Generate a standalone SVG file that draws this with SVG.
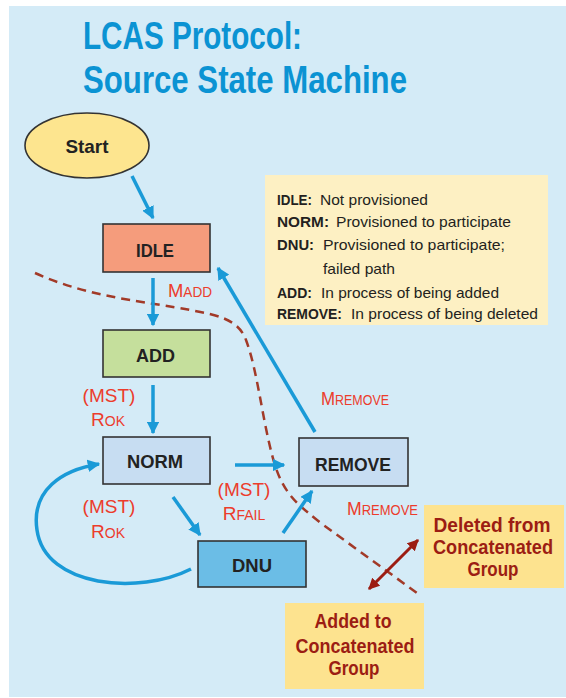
<svg xmlns="http://www.w3.org/2000/svg" width="566" height="698" viewBox="0 0 566 698">
<defs>
<style>
.t{font-family:"Liberation Sans",Arial,sans-serif;font-weight:bold;}
.title{fill:#0b93d3;font-size:38px;}
.node{stroke:#333;stroke-width:1.6;}
.nt{font-size:19px;fill:#222;text-anchor:middle;}
.lbl{font-family:"Liberation Sans",Arial,sans-serif;fill:#ec3c2c;font-size:19px;}
.sc{font-size:14px;}
.leg{font-family:"Liberation Sans",Arial,sans-serif;font-size:15px;fill:#231f20;}
.lb{font-weight:bold;}
.dr{fill:#9c1d13;font-size:20px;text-anchor:middle;}
.conn{fill:none;stroke:#1a9ad7;stroke-width:3.5;}
</style>
<marker id="ah" viewBox="0 0 10 10" refX="9" refY="5" markerWidth="3.6" markerHeight="3.6" orient="auto" markerUnits="strokeWidth">
<path d="M0,0 L10,5 L0,10 Z" fill="#1a9ad7"/>
</marker>
<marker id="rh" viewBox="0 0 10 10" refX="9" refY="5" markerWidth="3.8" markerHeight="3.8" orient="auto-start-reverse" markerUnits="strokeWidth">
<path d="M0,0 L10,5 L0,10 Z" fill="#9c1d13"/>
</marker>
</defs>
<rect x="0" y="0" width="566" height="698" fill="#ffffff"/>
<rect x="9" y="6" width="557" height="691" fill="#d4ebf7"/>
<g id="title">
<text class="t title" x="83" y="49" textLength="219" lengthAdjust="spacingAndGlyphs">LCAS Protocol:</text>
<text class="t title" x="83" y="93" textLength="324" lengthAdjust="spacingAndGlyphs">Source State Machine</text>
</g>
<g id="dashed">
<path d="M35,273 C90,298 150,302 190,310 C215,315 238,318 246,340 C258,372 262,420 274,462 C284,496 300,506 322,524 L417,593" fill="none" stroke="#a23a28" stroke-width="2.5" stroke-dasharray="9,6"/>
</g>
<g id="legend">
<rect x="265" y="175" width="283" height="150" fill="#fdf0c3"/>
<text class="leg lb" x="277" y="205" textLength="35" lengthAdjust="spacingAndGlyphs">IDLE:</text>
<text class="leg" x="320" y="205" textLength="108" lengthAdjust="spacingAndGlyphs">Not provisioned</text>
<text class="leg lb" x="277" y="227" textLength="52" lengthAdjust="spacingAndGlyphs">NORM:</text>
<text class="leg" x="336" y="227" textLength="175" lengthAdjust="spacingAndGlyphs">Provisioned to participate</text>
<text class="leg lb" x="277" y="250" textLength="37" lengthAdjust="spacingAndGlyphs">DNU:</text>
<text class="leg" x="323" y="250" textLength="182" lengthAdjust="spacingAndGlyphs">Provisioned to participate;</text>
<text class="leg" x="323" y="274" textLength="72" lengthAdjust="spacingAndGlyphs">failed path</text>
<text class="leg lb" x="277" y="298" textLength="35" lengthAdjust="spacingAndGlyphs">ADD:</text>
<text class="leg" x="321" y="298" textLength="178" lengthAdjust="spacingAndGlyphs">In process of being added</text>
<text class="leg lb" x="277" y="319" textLength="65" lengthAdjust="spacingAndGlyphs">REMOVE:</text>
<text class="leg" x="351" y="319" textLength="187" lengthAdjust="spacingAndGlyphs">In process of being deleted</text>
</g>
<g id="connectors">
<line class="conn" x1="132" y1="176" x2="153" y2="218" marker-end="url(#ah)"/>
<line class="conn" x1="153" y1="278" x2="153" y2="325" marker-end="url(#ah)"/>
<line class="conn" x1="153" y1="385" x2="153" y2="433" marker-end="url(#ah)"/>
<line class="conn" x1="173" y1="497" x2="200" y2="535" marker-end="url(#ah)"/>
<line class="conn" x1="235" y1="465" x2="284" y2="465" marker-end="url(#ah)"/>
<line class="conn" x1="283" y1="533" x2="312" y2="491" marker-end="url(#ah)"/>
<line class="conn" x1="315" y1="432" x2="218" y2="268" marker-end="url(#ah)"/>
<path class="conn" d="M191,569 C140,595 45,588 37,530 C31,490 62,470 99,464" marker-end="url(#ah)"/>
<line x1="369" y1="589" x2="418" y2="540" stroke="#9c1d13" stroke-width="3" marker-start="url(#rh)" marker-end="url(#rh)"/>
</g>
<g id="labels">
<text class="lbl" x="168" y="297" textLength="44" lengthAdjust="spacingAndGlyphs">M<tspan class="sc">ADD</tspan></text>
<text class="lbl" text-anchor="middle"><tspan x="109" y="402">(MST)</tspan><tspan x="108" y="426">R<tspan class="sc">OK</tspan></tspan></text>
<text class="lbl" text-anchor="middle"><tspan x="109" y="513">(MST)</tspan><tspan x="108" y="538">R<tspan class="sc">OK</tspan></tspan></text>
<text class="lbl" text-anchor="middle"><tspan x="244" y="496">(MST)</tspan><tspan x="244" y="520">R<tspan class="sc">FAIL</tspan></tspan></text>
<text class="lbl" x="321" y="405" textLength="68" lengthAdjust="spacingAndGlyphs">M<tspan class="sc">REMOVE</tspan></text>
<text class="lbl" x="347" y="515" textLength="71" lengthAdjust="spacingAndGlyphs">M<tspan class="sc">REMOVE</tspan></text>
</g>
<g id="start">
<ellipse cx="87" cy="145.5" rx="62" ry="32.5" fill="#fde58f" stroke="#333" stroke-width="1.6"/>
<text class="t nt" x="87" y="153" textLength="43" lengthAdjust="spacingAndGlyphs">Start</text>
</g>
<g id="idle">
<rect class="node" x="103" y="224" width="107" height="48" fill="#f59c7c"/>
<text class="t nt" x="155" y="257" textLength="38" lengthAdjust="spacingAndGlyphs">IDLE</text>
</g>
<g id="add">
<rect class="node" x="103" y="330" width="107" height="47" fill="#c5df9c"/>
<text class="t nt" x="155.5" y="362" textLength="39" lengthAdjust="spacingAndGlyphs">ADD</text>
</g>
<g id="norm">
<rect class="node" x="103" y="437" width="107" height="47" fill="#c7ddf2"/>
<text class="t nt" x="155" y="468" textLength="56" lengthAdjust="spacingAndGlyphs">NORM</text>
</g>
<g id="dnu">
<rect class="node" x="198" y="541" width="108" height="46" fill="#6bbde6"/>
<text class="t nt" x="252" y="572" textLength="40" lengthAdjust="spacingAndGlyphs">DNU</text>
</g>
<g id="remove">
<rect class="node" x="299" y="438" width="109" height="48" fill="#c7ddf2"/>
<text class="t nt" x="353" y="471" textLength="76" lengthAdjust="spacingAndGlyphs">REMOVE</text>
</g>
<g id="deleted">
<rect x="424" y="505" width="140" height="83" fill="#fde38f"/>
<text class="t dr" x="492" y="532" textLength="117" lengthAdjust="spacingAndGlyphs">Deleted from</text>
<text class="t dr" x="493" y="554" textLength="120" lengthAdjust="spacingAndGlyphs">Concatenated</text>
<text class="t dr" x="493" y="576" textLength="51" lengthAdjust="spacingAndGlyphs">Group</text>
</g>
<g id="added">
<rect x="285" y="603" width="139" height="86" fill="#fde38f"/>
<text class="t dr" x="353" y="628" textLength="77" lengthAdjust="spacingAndGlyphs">Added to</text>
<text class="t dr" x="355" y="653" textLength="119" lengthAdjust="spacingAndGlyphs">Concatenated</text>
<text class="t dr" x="354" y="675" textLength="51" lengthAdjust="spacingAndGlyphs">Group</text>
</g>
</svg>
